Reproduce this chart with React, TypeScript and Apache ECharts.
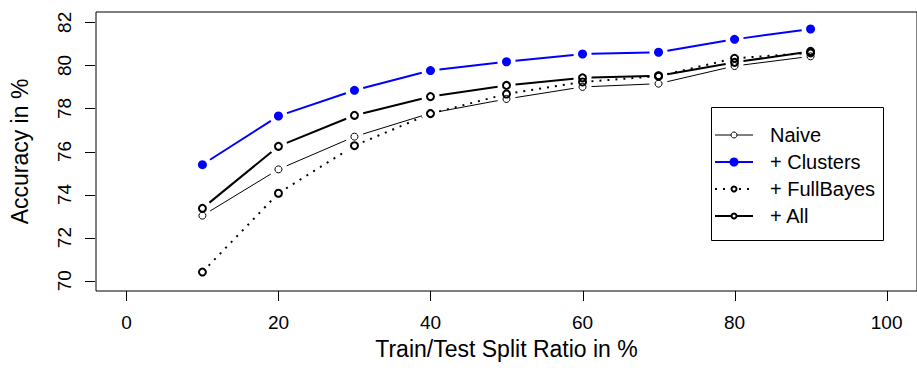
import React, { useEffect, useRef } from "react";
import * as echarts from "echarts";

const splitRatios = [10, 20, 30, 40, 50, 60, 70, 80, 90];
const naiveAcc = [73.02, 75.17, 76.69, 77.78, 78.44, 79.0, 79.15, 79.97, 80.42];
const clustersAcc = [75.39, 77.65, 78.84, 79.76, 80.17, 80.53, 80.61, 81.21, 81.69];
const fullBayesAcc = [70.4, 74.06, 76.27, 77.76, 78.67, 79.23, 79.5, 80.33, 80.58];
const allAcc = [73.36, 76.24, 77.68, 78.55, 79.07, 79.42, 79.52, 80.14, 80.65];
const xTickValues = [0, 20, 40, 60, 80, 100];
const yTickValues = [70, 72, 74, 76, 78, 80, 82];
const legendNames = ["Naive", "+ Clusters", "+ FullBayes", "+ All"];

const X_MIN = -4;
const X_MAX = 104;
const Y_MIN = 69.52;
const Y_MAX = 82.48;

const GRID_LEFT = 95;
const GRID_TOP = 12;
const GRID_W = 834;
const GRID_H = 279;

const FONT = "'Liberation Sans', Arial, Helvetica, sans-serif";
const TICK_LEN = 10;

type Style = {
  name: string;
  values: number[];
  color: string;
  lineWidth: number;
  lineDash: number[] | null;
  symbolSize: number;
  borderWidth: number;
  filled: boolean;
};

const styles: Style[] = [
  { name: legendNames[0], values: naiveAcc, color: "#000000", lineWidth: 1, lineDash: null, symbolSize: 7, borderWidth: 1, filled: false },
  { name: legendNames[1], values: clustersAcc, color: "#0000ff", lineWidth: 2, lineDash: null, symbolSize: 9, borderWidth: 0, filled: true },
  { name: legendNames[2], values: fullBayesAcc, color: "#000000", lineWidth: 2, lineDash: [2, 6], symbolSize: 7, borderWidth: 2, filled: false },
  { name: legendNames[3], values: allAcc, color: "#000000", lineWidth: 2, lineDash: null, symbolSize: 7, borderWidth: 2, filled: false },
];

const GAP = 9;

function segmentSeries(s: Style) {
  const data: number[][] = [];
  for (let i = 0; i < splitRatios.length - 1; i++) {
    data.push([splitRatios[i], s.values[i], splitRatios[i + 1], s.values[i + 1]]);
  }
  return {
    type: "custom",
    name: s.name + " lines",
    coordinateSystem: "cartesian2d",
    encode: { x: [0, 2], y: [1, 3] },
    data,
    renderItem: (params: any, api: any) => {
      const p1 = api.coord([api.value(0), api.value(1)]);
      const p2 = api.coord([api.value(2), api.value(3)]);
      const dx = p2[0] - p1[0];
      const dy = p2[1] - p1[1];
      const len = Math.sqrt(dx * dx + dy * dy);
      if (len <= 2 * GAP) return null;
      const ux = dx / len;
      const uy = dy / len;
      return {
        type: "line",
        shape: {
          x1: p1[0] + ux * GAP,
          y1: p1[1] + uy * GAP,
          x2: p2[0] - ux * GAP,
          y2: p2[1] - uy * GAP,
        },
        style: {
          stroke: s.color,
          lineWidth: s.lineWidth,
          lineDash: s.lineDash || undefined,
        },
      };
    },
    z: 2,
  };
}

function pointSeries(s: Style) {
  return {
    type: "scatter",
    name: s.name,
    data: splitRatios.map((x, i) => [x, s.values[i]]),
    symbol: "circle",
    symbolSize: s.symbolSize,
    itemStyle: {
      color: s.filled ? s.color : "rgba(0,0,0,0)",
      borderColor: s.color,
      borderWidth: s.borderWidth,
      opacity: 1,
    },
    z: 3,
  };
}

function legendGraphics() {
  const els: any[] = [];
  els.push({
    type: "rect",
    shape: { x: 711.5, y: 107.5, width: 172, height: 133 },
    style: { fill: "#ffffff", stroke: "#000000", lineWidth: 1 },
    z: 10,
  });
  const ys = [135, 162, 189, 216];
  styles.forEach((s, i) => {
    const y = ys[i];
    els.push({
      type: "line",
      shape: { x1: 715, y1: y, x2: 753, y2: y },
      style: { stroke: s.color, lineWidth: s.lineWidth, lineDash: s.lineDash || undefined },
      z: 11,
    });
    els.push({
      type: "circle",
      shape: { cx: 734, cy: y, r: s.filled ? s.symbolSize / 2 : (s.symbolSize - s.borderWidth) / 2 },
      style: {
        fill: s.filled ? s.color : "#ffffff",
        stroke: s.color,
        lineWidth: s.filled ? 0 : s.borderWidth,
      },
      z: 12,
    });
    els.push({
      type: "text",
      x: 770,
      y: y,
      style: {
        text: s.name,
        fill: "#000000",
        font: `20px ${FONT}`,
        verticalAlign: "middle",
        align: "left",
      },
      z: 12,
    });
  });
  return els;
}

function tickGraphics(chart: any) {
  const toX = (v: number) => {
    let r: any = null;
    try {
      r = chart.convertToPixel({ xAxisIndex: 0 }, v);
    } catch (e) {
      r = null;
    }
    if (Array.isArray(r)) r = r[0];
    if (typeof r !== "number" || !isFinite(r)) {
      r = GRID_LEFT + ((v - X_MIN) / (X_MAX - X_MIN)) * GRID_W;
    }
    return r;
  };
  const toY = (v: number) => {
    let r: any = null;
    try {
      r = chart.convertToPixel({ yAxisIndex: 0 }, v);
    } catch (e) {
      r = null;
    }
    if (Array.isArray(r)) r = r[1];
    if (typeof r !== "number" || !isFinite(r)) {
      r = GRID_TOP + ((Y_MAX - v) / (Y_MAX - Y_MIN)) * GRID_H;
    }
    return r;
  };
  const els: any[] = [];
  const bottom = GRID_TOP + GRID_H;
  xTickValues.forEach((v) => {
    const x = Math.round(toX(v)) + 0.5;
    els.push({
      type: "line",
      shape: { x1: x, y1: bottom, x2: x, y2: bottom + TICK_LEN },
      style: { stroke: "#000000", lineWidth: 1 },
      z: 20,
    });
  });
  yTickValues.forEach((v) => {
    const y = Math.round(toY(v)) + 0.5;
    els.push({
      type: "line",
      shape: { x1: GRID_LEFT - TICK_LEN, y1: y, x2: GRID_LEFT, y2: y },
      style: { stroke: "#000000", lineWidth: 1 },
      z: 20,
    });
  });
  return els;
}

export default function App() {
  const ref = useRef<HTMLDivElement | null>(null);
  useEffect(() => {
    if (!ref.current) return;
    const chart = echarts.init(ref.current, undefined, { renderer: "svg" });
    const option: any = {
      animation: false,
      backgroundColor: "#ffffff",
      textStyle: { fontFamily: FONT },
      grid: {
        left: GRID_LEFT,
        top: GRID_TOP,
        width: GRID_W,
        height: GRID_H,
        show: true,
        borderColor: "#000000",
        borderWidth: 1,
        backgroundColor: "transparent",
        containLabel: false,
      },
      xAxis: {
        type: "value",
        min: X_MIN,
        max: X_MAX,
        axisLine: { show: false, onZero: false },
        splitLine: { show: false },
        axisTick: { show: false },
        axisLabel: {
          customValues: xTickValues,
          fontSize: 19,
          color: "#000000",
          margin: 22,
          fontFamily: FONT,
        },
        name: "Train/Test Split Ratio in %",
        nameLocation: "middle",
        nameGap: 46,
        nameTextStyle: { fontSize: 23, color: "#000000", fontFamily: FONT },
      },
      yAxis: {
        type: "value",
        min: Y_MIN,
        max: Y_MAX,
        axisLine: { show: false, onZero: false },
        splitLine: { show: false },
        axisTick: { show: false },
        axisLabel: {
          customValues: yTickValues,
          fontSize: 19,
          color: "#000000",
          margin: 22,
          rotate: 90,
          fontFamily: FONT,
        },
        name: "Accuracy in %",
        nameLocation: "middle",
        nameGap: 65,
        nameRotate: 90,
        nameTextStyle: { fontSize: 23, color: "#000000", fontFamily: FONT },
      },
      series: [
        ...styles.map((s) => segmentSeries(s)),
        ...styles.map((s) => pointSeries(s)),
      ],
    };
    chart.setOption(option);
    chart.setOption({ graphic: [...legendGraphics(), ...tickGraphics(chart)] });
    return () => {
      chart.dispose();
    };
  }, []);
  return (
    <div
      ref={ref}
      style={{ position: "absolute", left: 0, top: 0, width: 917, height: 376 }}
    />
  );
}
